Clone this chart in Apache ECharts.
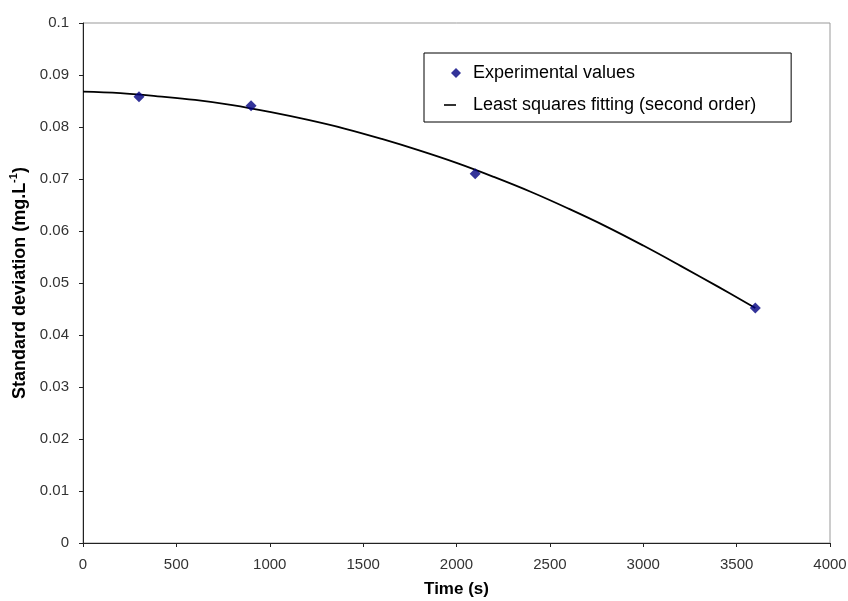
<!DOCTYPE html>
<html>
<head>
<meta charset="utf-8">
<script src="https://cdn.jsdelivr.net/npm/echarts@6/dist/echarts.min.js"></script>
<style>
  html, body { margin: 0; padding: 0; background: #fff; }
  #chart { width: 848px; height: 601px; }
</style>
</head>
<body>
<div id="chart"></div>
<script>
// measured points: [time (s), std deviation]
const expTime = [300, 900, 2100, 3600]
const expValues = [0.0858, 0.0841, 0.0710, 0.0452]

// fitted curve
const fitTime = [0, 200, 400, 600, 800, 1000, 1200, 1400, 1600, 1800, 2000, 2200, 2400, 2600, 2800, 3000, 3200, 3400, 3600]
const fitValues = [0.0868, 0.0865, 0.0859, 0.0852, 0.0842, 0.0829, 0.0814, 0.0797, 0.0777, 0.0755, 0.0731, 0.0704, 0.0675, 0.0643, 0.0609, 0.0572, 0.0533, 0.0493, 0.0452]

const font = 'Liberation Sans, Arial, sans-serif'

const chart = echarts.init(document.getElementById('chart'))

chart.setOption({
  animation: false,
  grid: {
    left: 83,
    right: 18,
    top: 23,
    bottom: 58,
    outerBoundsMode: 'none',
    containLabel: false,
    show: true,
    borderColor: '#999',
    borderWidth: 1
  },
  legend: {
    orient: 'vertical',
    left: 424,
    top: 53,
    padding: [11, 35, 8, 20],
    borderColor: '#000',
    borderWidth: 1,
    itemGap: 14,
    itemWidth: 24,
    itemHeight: 10,
    textStyle: { fontFamily: font, fontSize: 18, color: '#000' },
    data: [
      // small diamond centred in a 24px wide icon box
      { name: 'Experimental values', icon: 'path://M0,0 M24,10 M12,0 L17,5 L12,10 L7,5 Z', itemStyle: { color: '#000080' } },
      // short dash at the left of the icon box
      { name: 'Least squares fitting (second order)', icon: 'path://M0,0 M24,10 M0,4.2 L12,4.2 L12,5.8 L0,5.8 Z' }
    ]
  },
  xAxis: {
    type: 'value',
    min: 0,
    max: 4000,
    interval: 500,
    name: 'Time (s)',
    nameLocation: 'middle',
    nameGap: 38,
    nameTextStyle: { fontFamily: font, fontSize: 17, fontWeight: 'bold', color: '#000' },
    axisLine: { onZero: false, lineStyle: { color: '#222', width: 1 } },
    axisTick: { show: true, length: 4, lineStyle: { color: '#222' } },
    axisLabel: { fontFamily: font, fontSize: 15, color: '#333', margin: 14, formatter: v => String(v) },
    splitLine: { show: false }
  },
  yAxis: {
    type: 'value',
    min: 0,
    max: 0.1,
    interval: 0.01,
    name: '{a|Standard deviation (mg.L}{s|-1}{a|)}',
    nameLocation: 'middle',
    nameRotate: 90,
    nameGap: 50,
    nameTextStyle: {
      rich: {
        a: { fontFamily: font, fontSize: 18, fontWeight: 'bold', color: '#000' },
        s: { fontFamily: font, fontSize: 11, fontWeight: 'bold', color: '#000', padding: [0, 0, 11, 0] }
      }
    },
    axisLine: { onZero: false, lineStyle: { color: '#222', width: 1 } },
    axisTick: { show: true, length: 4, lineStyle: { color: '#222' } },
    axisLabel: { fontFamily: font, fontSize: 15, color: '#333', margin: 14 },
    splitLine: { show: false }
  },
  series: [
    {
      name: 'Least squares fitting (second order)',
      type: 'line',
      data: fitTime.map((t, i) => [t, fitValues[i]]),
      smooth: 0.4,
      showSymbol: false,
      symbol: 'none',
      lineStyle: { color: '#000', width: 1.8 },
      itemStyle: { color: '#000' },
      z: 2
    },
    {
      name: 'Experimental values',
      type: 'scatter',
      data: expTime.map((t, i) => [t, expValues[i]]),
      symbol: 'diamond',
      symbolSize: 11,
      itemStyle: { color: '#000080' },
      z: 3
    }
  ]
})
</script>
</body>
</html>
